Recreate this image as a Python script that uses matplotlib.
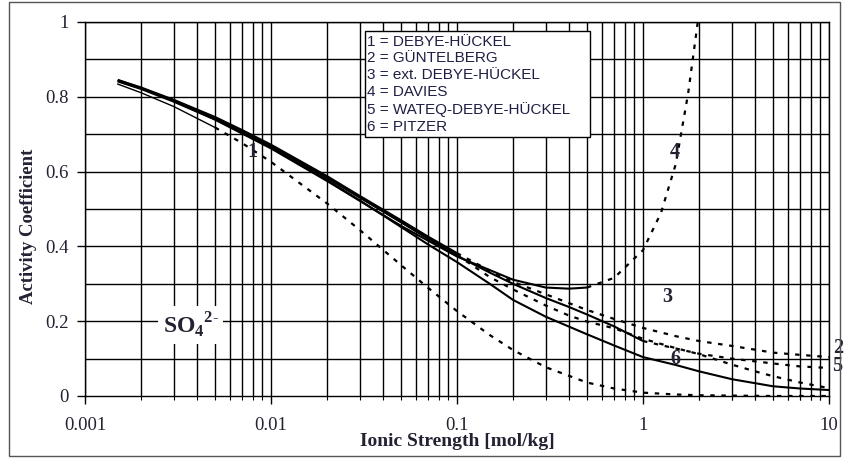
import matplotlib
matplotlib.use('Agg')
import matplotlib.pyplot as plt
from matplotlib.patches import Rectangle
from matplotlib.ticker import FixedLocator, FixedFormatter, NullFormatter

plt.rcParams['font.family'] = ['Liberation Serif', 'DejaVu Serif']
plt.rcParams['mathtext.fontset'] = 'custom'
plt.rcParams['mathtext.rm'] = 'Liberation Serif'
plt.rcParams['mathtext.bf'] = 'Liberation Serif:bold'

# ionic strength values (mol/kg) and activity coefficients
# 1 = Debye-Hueckel (limiting law)
I_dh = [0.0015, 0.002, 0.003, 0.005]
g_dh = [0.834, 0.811, 0.774, 0.718]
I_dh_ext = [0.005, 0.007, 0.01, 0.02, 0.03, 0.05, 0.07, 0.1, 0.15, 0.2, 0.3, 0.5, 0.7, 1, 1.5, 2, 3, 5, 10]
g_dh_ext = [0.718, 0.676, 0.626, 0.515, 0.444, 0.350, 0.289, 0.227, 0.163, 0.123, 0.077, 0.036, 0.020, 0.009, 0.004, 0.002, 0.001, 0.0, 0.0]

# common low-I part for 2, 3, 5
I_low = [0.0015, 0.002, 0.003, 0.005, 0.007, 0.01, 0.02, 0.03, 0.05, 0.07, 0.1]

# 2 = Guentelberg
g_gue = [0.845, 0.825, 0.792, 0.746, 0.711, 0.672, 0.588, 0.535, 0.470, 0.426, 0.382]
I_gue_ext = [0.1, 0.15, 0.2, 0.3, 0.5, 0.7, 1, 1.5, 2, 3, 5, 7, 10]
g_gue_ext = [0.382, 0.335, 0.305, 0.272, 0.230, 0.206, 0.182, 0.160, 0.147, 0.134, 0.116, 0.110, 0.104]

# 3 = extended Debye-Hueckel
g_edh = [0.843, 0.823, 0.790, 0.743, 0.708, 0.669, 0.584, 0.531, 0.465, 0.421, 0.377]
I_edh_ext = [0.1, 0.15, 0.2, 0.3, 0.4, 0.5, 0.7, 1, 1.5, 2, 3, 4, 5, 7, 10]
g_edh_ext = [0.377, 0.318, 0.285, 0.242, 0.215, 0.199, 0.181, 0.153, 0.128, 0.112, 0.084, 0.066, 0.053, 0.036, 0.021]

# 4 = Davies
I_dav = [0.0015, 0.002, 0.003, 0.005, 0.01, 0.02, 0.05, 0.1, 0.2, 0.3, 0.4, 0.5]
g_dav = [0.841, 0.821, 0.787, 0.739, 0.662, 0.575, 0.455, 0.373, 0.311, 0.290, 0.287, 0.290]
I_dav_ext = [0.5, 0.7, 1, 1.25, 1.5, 1.75, 1.97]
g_dav_ext = [0.290, 0.316, 0.39, 0.49, 0.62, 0.81, 1.0]

# 5 = WATEQ-Debye-Hueckel
I_wat = I_low + [0.15, 0.2, 0.3, 0.4, 0.5, 0.7, 1.0]
g_wat = [0.843, 0.823, 0.790, 0.743, 0.708, 0.669, 0.584, 0.531, 0.465, 0.421, 0.375,
         0.330, 0.300, 0.262, 0.238, 0.218, 0.186, 0.147]
I_wat_ext = [1, 1.5, 2, 3, 5, 7, 10]
g_wat_ext = [0.147, 0.127, 0.113, 0.100, 0.087, 0.079, 0.075]

# 6 = Pitzer
I_pit = [0.0015, 0.002, 0.003, 0.005, 0.01, 0.02, 0.03, 0.05, 0.07, 0.1, 0.15, 0.2, 0.3,
         0.5, 0.7, 1, 1.5, 2, 3, 5, 7, 10]
g_pit = [0.845, 0.823, 0.789, 0.740, 0.664, 0.578, 0.523, 0.452, 0.405, 0.358, 0.300, 0.257,
         0.212, 0.165, 0.135, 0.104, 0.083, 0.066, 0.045, 0.026, 0.020, 0.016]

legend_lines = ['1 = DEBYE-HÜCKEL', '2 = GÜNTELBERG', '3 = ext. DEBYE-HÜCKEL',
                '4 = DAVIES', '5 = WATEQ-DEBYE-HÜCKEL', '6 = PITZER']

x_ticks = [0.001, 0.01, 0.1, 1, 10]
x_ticklabels = ['0.001', '0.01', '0.1', '1', '10']
y_ticks = [0, 0.2, 0.4, 0.6, 0.8, 1.0]
y_ticklabels = ['0', '0.2', '0.4', '0.6', '0.8', '1']

txt_col = '#222233'

fig = plt.figure(figsize=(8.47, 4.58), dpi=100)
ax = fig.add_axes([85 / 847, 1 - 396 / 458, 744 / 847, 374 / 458])

# grid
minor_x = [m * 10.0 ** e for e in range(-3, 1) for m in range(2, 10)]
for xv in minor_x + x_ticks:
    ax.axvline(xv, color='black', lw=1.0, zorder=1)
for yv in [0.1 * k for k in range(1, 11)]:
    ax.axhline(yv, color='black', lw=1.0, zorder=1)

solid = dict(color='black', lw=1.5, solid_capstyle='butt', zorder=3)
dashed = dict(color='black', lw=1.6, linestyle=(0, (2, 3)), zorder=3)
thin = dict(color='black', lw=1.0, zorder=3)

ax.plot(I_dh, g_dh, **thin)
ax.plot(I_dh_ext, g_dh_ext, **dashed)
ax.plot(I_low, g_gue, **solid)
ax.plot(I_gue_ext, g_gue_ext, **dashed)
ax.plot(I_low, g_edh, **solid)
ax.plot(I_edh_ext, g_edh_ext, **dashed)
ax.plot(I_dav, g_dav, **solid)
ax.plot(I_dav_ext, g_dav_ext, **dashed)
ax.plot(I_wat, g_wat, **solid)
ax.plot(I_wat_ext, g_wat_ext, **dashed)
ax.plot(I_pit, g_pit, **solid)

ax.set_xscale('log')
ax.set_xlim(0.001, 10)
ax.set_ylim(0, 1)
ax.xaxis.set_major_locator(FixedLocator(x_ticks))
ax.xaxis.set_major_formatter(FixedFormatter(x_ticklabels))
ax.xaxis.set_minor_locator(FixedLocator(minor_x + [m * 1.0 for m in range(2, 10)]))
ax.xaxis.set_minor_formatter(NullFormatter())
ax.yaxis.set_major_locator(FixedLocator(y_ticks))
ax.yaxis.set_major_formatter(FixedFormatter(y_ticklabels))
ax.tick_params(axis='x', which='major', direction='out', length=6, width=1, pad=9,
               labelsize=13.5, labelcolor=txt_col)
ax.tick_params(axis='x', which='minor', direction='out', length=3, width=0.8)
ax.tick_params(axis='y', which='major', direction='out', length=6, width=1, pad=6,
               labelsize=13.5, labelcolor=txt_col)
for s in ax.spines.values():
    s.set_linewidth(1.0)

ax.set_xlabel('Ionic Strength [mol/kg]', fontsize=14, fontweight='bold', color=txt_col)
ax.xaxis.set_label_coords(0.5, -0.1)
ax.set_ylabel('Activity Coefficient', fontsize=13.5, fontweight='bold', color=txt_col)
ax.yaxis.set_label_coords(-0.064, 0.455)

# curve numbers
lab = dict(fontsize=14.5, fontweight='bold', color=txt_col, ha='center', va='center', zorder=5)
ax.text(0.0079, 0.652, '1', **lab)
ax.text(1.49, 0.652, '4', **lab)
ax.text(1.35, 0.265, '3', **lab)
ax.text(1.5, 0.098, '6', **lab)
ax.text(11.2, 0.128, '2', clip_on=False, **lab)
ax.text(11.0, 0.080, '5', clip_on=False, **lab)

ax.text(0.0037, 0.19, r'$\mathbf{SO}_{\mathbf{4}}{}^{\mathbf{2\text{-}}}$', fontsize=17,
        color=txt_col, ha='center', va='center', zorder=5,
        bbox=dict(facecolor='white', edgecolor='none', pad=3))

# legend box
ax.add_patch(Rectangle((0.3763, 0.6925), 0.3025, 0.2835, transform=ax.transAxes,
                       facecolor='white', edgecolor='black', lw=1.0, zorder=6))
ax.text(0.379, 0.966, '\n'.join(legend_lines), transform=ax.transAxes, va='top', ha='left',
        fontsize=11, family='Liberation Sans', color='#1f1f44', linespacing=1.25, zorder=7)

# outer frame
fig.patches.append(Rectangle((9 / 847, 2 / 458), 831 / 847, 454 / 458, transform=fig.transFigure,
                             fill=False, edgecolor='#555555', lw=1.0))

fig.savefig('out.png', dpi=100)
